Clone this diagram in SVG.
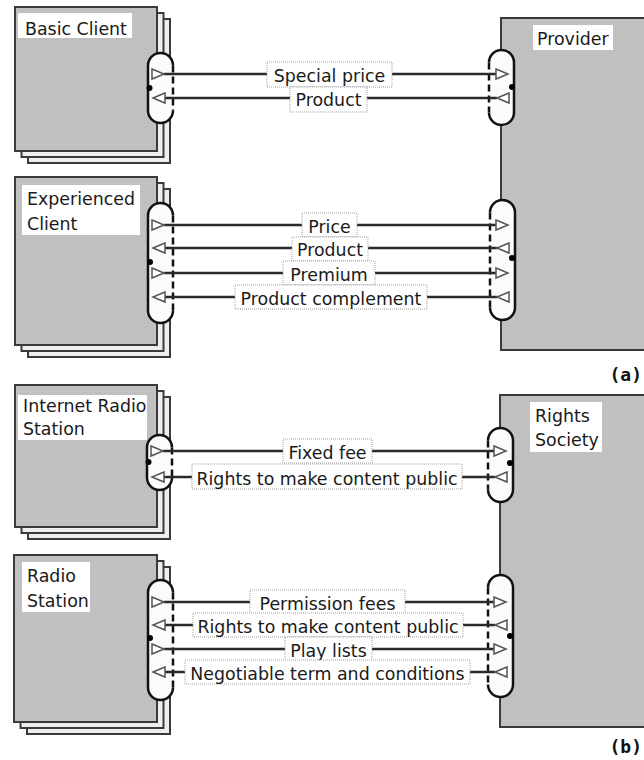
<svg xmlns="http://www.w3.org/2000/svg" xmlns:xlink="http://www.w3.org/1999/xlink" width="644" height="760" viewBox="0 0 644 760">
  <style>
    .page{fill:#eeeeee;stroke:#3a3a3a;stroke-width:2}
    .front{fill:#c0c0c0;stroke:#3a3a3a;stroke-width:2}
    .lbl{fill:#ffffff}
    .t{font-family:"DejaVu Sans","Liberation Sans",sans-serif;font-size:17.4px;fill:#1a1a1a}
    .cap{font-family:"DejaVu Sans Mono",monospace;font-size:18px;font-weight:bold;fill:#111}
    .port{fill:#fbfbfb}
    .rim{fill:none;stroke:#111;stroke-width:2.5}
    .dash{fill:none;stroke:#111;stroke-width:2.5;stroke-dasharray:7 4}
    .dot{fill:#000}
    .wire{stroke:#2a2a2a;stroke-width:2.5}
    .tri{fill:#ffffff;stroke:#555;stroke-width:1.5;stroke-linejoin:miter}
    .tag{fill:#ffffff;stroke:#a0a0a0;stroke-width:1;stroke-dasharray:1 1}
  </style>
  <defs>
    <!-- hollow arrowheads: origin at the left end -->
    <polygon id="tr" class="tri" points="0,-5 12,0 0,5"/>
    <polygon id="tl" class="tri" points="12,-5 0,0 12,5"/>
  </defs>

  <rect width="644" height="760" fill="#ffffff"/>

  <!-- ===== (a) ===== -->
  <g id="basic-client">
    <rect class="page" x="28" y="19" width="142" height="144"/>
    <rect class="page" x="21.5" y="13" width="142" height="144"/>
    <rect class="front" x="15" y="7" width="142" height="144"/>
    <rect class="lbl" x="18" y="13" width="114" height="25"/>
    <text class="t" x="25" y="35">Basic Client</text>
    <rect class="port" x="148" y="53" width="25" height="70" rx="12.5"/>
    <path class="rim" d="M173,65.5 A12.5,12.5 0 0 0 148,65.5 V110.5 A12.5,12.5 0 0 0 173,110.5"/>
    <path class="dash" d="M173,65.5 V110.5"/>
    <circle class="dot" cx="149.5" cy="88" r="3"/>
  </g>

  <g id="experienced-client">
    <rect class="page" x="28" y="189" width="142" height="168"/>
    <rect class="page" x="21.5" y="183" width="142" height="168"/>
    <rect class="front" x="15" y="177" width="142" height="168"/>
    <rect class="lbl" x="22" y="185" width="118" height="50"/>
    <text class="t" x="27" y="205">Experienced</text>
    <text class="t" x="27" y="230">Client</text>
    <rect class="port" x="148" y="203" width="25" height="120" rx="12.5"/>
    <path class="rim" d="M173,215.5 A12.5,12.5 0 0 0 148,215.5 V310.5 A12.5,12.5 0 0 0 173,310.5"/>
    <path class="dash" d="M173,215.5 V310.5"/>
    <circle class="dot" cx="150" cy="262" r="3"/>
  </g>

  <g id="provider">
    <rect class="front" x="501" y="18" width="160" height="332"/>
    <rect class="lbl" x="533" y="25" width="80" height="25"/>
    <text class="t" x="537" y="45">Provider</text>
    <rect class="port" x="489" y="50" width="25" height="75" rx="12.5"/>
    <path class="rim" d="M489,62.5 A12.5,12.5 0 0 1 514,62.5 V112.5 A12.5,12.5 0 0 1 489,112.5"/>
    <path class="dash" d="M489,62.5 V112.5"/>
    <circle class="dot" cx="512" cy="87" r="3"/>
    <rect class="port" x="490" y="200" width="25" height="120" rx="12.5"/>
    <path class="rim" d="M490,212.5 A12.5,12.5 0 0 1 515,212.5 V307.5 A12.5,12.5 0 0 1 490,307.5"/>
    <path class="dash" d="M490,212.5 V307.5"/>
    <circle class="dot" cx="512" cy="258" r="3"/>
  </g>

  <!-- ===== (b) ===== -->
  <g id="internet-radio-station">
    <rect class="page" x="28" y="397" width="142" height="142"/>
    <rect class="page" x="21.5" y="391" width="142" height="142"/>
    <rect class="front" x="15" y="385" width="142" height="142"/>
    <rect class="lbl" x="18" y="395" width="129" height="45"/>
    <text class="t" x="23" y="412">Internet Radio</text>
    <text class="t" x="23" y="435">Station</text>
    <rect class="port" x="147" y="435" width="25" height="55" rx="12.5"/>
    <path class="rim" d="M172,447.5 A12.5,12.5 0 0 0 147,447.5 V477.5 A12.5,12.5 0 0 0 172,477.5"/>
    <path class="dash" d="M172,447.5 V477.5"/>
    <circle class="dot" cx="148.5" cy="462" r="3"/>
  </g>

  <g id="radio-station">
    <rect class="page" x="27" y="567" width="143" height="167"/>
    <rect class="page" x="20.5" y="561" width="143" height="167"/>
    <rect class="front" x="14" y="555" width="143" height="167"/>
    <rect class="lbl" x="22" y="562" width="68" height="50"/>
    <text class="t" x="27" y="582">Radio</text>
    <text class="t" x="27" y="607">Station</text>
    <rect class="port" x="148" y="580" width="25" height="120" rx="12.5"/>
    <path class="rim" d="M173,592.5 A12.5,12.5 0 0 0 148,592.5 V687.5 A12.5,12.5 0 0 0 173,687.5"/>
    <path class="dash" d="M173,592.5 V687.5"/>
    <circle class="dot" cx="150" cy="638" r="3"/>
  </g>

  <g id="rights-society">
    <rect class="front" x="500" y="395" width="160" height="332"/>
    <rect class="lbl" x="530" y="402" width="72" height="50"/>
    <text class="t" x="535" y="422">Rights</text>
    <text class="t" x="535" y="446">Society</text>
    <rect class="port" x="488" y="428" width="25" height="74" rx="12.5"/>
    <path class="rim" d="M488,440.5 A12.5,12.5 0 0 1 513,440.5 V489.5 A12.5,12.5 0 0 1 488,489.5"/>
    <path class="dash" d="M488,440.5 V489.5"/>
    <circle class="dot" cx="510" cy="463" r="3"/>
    <rect class="port" x="488" y="575" width="25" height="122" rx="12.5"/>
    <path class="rim" d="M488,587.5 A12.5,12.5 0 0 1 513,587.5 V684.5 A12.5,12.5 0 0 1 488,684.5"/>
    <path class="dash" d="M488,587.5 V684.5"/>
    <circle class="dot" cx="510" cy="636" r="3"/>
  </g>

  <!-- ===== connectors ===== -->
  <g id="connectors">
    <!-- (a) basic client ↔ provider -->
    <line class="wire" x1="164" y1="74" x2="496" y2="74"/>
    <use xlink:href="#tr" x="152" y="74"/><use xlink:href="#tr" x="496" y="74"/>
    <rect class="tag" x="267" y="62" width="125" height="25"/>
    <text class="t" x="329.5" y="81.5" text-anchor="middle">Special price</text>

    <line class="wire" x1="165" y1="98" x2="497" y2="98"/>
    <use xlink:href="#tl" x="153" y="98"/><use xlink:href="#tl" x="497" y="98"/>
    <rect class="tag" x="290" y="87" width="77" height="25"/>
    <text class="t" x="328.5" y="105.5" text-anchor="middle">Product</text>

    <!-- (a) experienced client ↔ provider -->
    <line class="wire" x1="164" y1="225" x2="496" y2="225"/>
    <use xlink:href="#tr" x="152" y="225"/><use xlink:href="#tr" x="496" y="225"/>
    <rect class="tag" x="302" y="213" width="55" height="24"/>
    <text class="t" x="329.5" y="232.5" text-anchor="middle">Price</text>

    <line class="wire" x1="165" y1="248" x2="497" y2="248"/>
    <use xlink:href="#tl" x="153" y="248"/><use xlink:href="#tl" x="497" y="248"/>
    <rect class="tag" x="292" y="237" width="76" height="24"/>
    <text class="t" x="330" y="255.5" text-anchor="middle">Product</text>

    <line class="wire" x1="164" y1="273" x2="496" y2="273"/>
    <use xlink:href="#tr" x="152" y="273"/><use xlink:href="#tr" x="496" y="273"/>
    <rect class="tag" x="283" y="261" width="92" height="24"/>
    <text class="t" x="329" y="280.5" text-anchor="middle">Premium</text>

    <line class="wire" x1="165" y1="297" x2="497" y2="297"/>
    <use xlink:href="#tl" x="153" y="297"/><use xlink:href="#tl" x="497" y="297"/>
    <rect class="tag" x="235" y="285" width="192" height="24"/>
    <text class="t" x="331" y="304.5" text-anchor="middle">Product complement</text>

    <!-- (b) internet radio station ↔ rights society -->
    <line class="wire" x1="163" y1="451" x2="494" y2="451"/>
    <use xlink:href="#tr" x="151" y="451"/><use xlink:href="#tr" x="494" y="451"/>
    <rect class="tag" x="283" y="439" width="89" height="24"/>
    <text class="t" x="327.5" y="458.5" text-anchor="middle">Fixed fee</text>

    <line class="wire" x1="164" y1="477" x2="495" y2="477"/>
    <use xlink:href="#tl" x="152" y="477"/><use xlink:href="#tl" x="495" y="477"/>
    <rect class="tag" x="192" y="464" width="270" height="25"/>
    <text class="t" x="327" y="484.5" text-anchor="middle">Rights to make content public</text>

    <!-- (b) radio station ↔ rights society -->
    <line class="wire" x1="164" y1="602" x2="494" y2="602"/>
    <use xlink:href="#tr" x="152" y="602"/><use xlink:href="#tr" x="494" y="602"/>
    <rect class="tag" x="250" y="590" width="155" height="24"/>
    <text class="t" x="327.5" y="609.5" text-anchor="middle">Permission fees</text>

    <line class="wire" x1="165" y1="625" x2="495" y2="625"/>
    <use xlink:href="#tl" x="153" y="625"/><use xlink:href="#tl" x="495" y="625"/>
    <rect class="tag" x="193" y="613" width="270" height="24"/>
    <text class="t" x="328" y="632.5" text-anchor="middle">Rights to make content public</text>

    <line class="wire" x1="164" y1="649" x2="494" y2="649"/>
    <use xlink:href="#tr" x="152" y="649"/><use xlink:href="#tr" x="494" y="649"/>
    <rect class="tag" x="285" y="637" width="87" height="24"/>
    <text class="t" x="328.5" y="656.5" text-anchor="middle">Play lists</text>

    <line class="wire" x1="165" y1="672" x2="495" y2="672"/>
    <use xlink:href="#tl" x="153" y="672"/><use xlink:href="#tl" x="495" y="672"/>
    <rect class="tag" x="185" y="660" width="285" height="24"/>
    <text class="t" x="327.5" y="679.5" text-anchor="middle">Negotiable term and conditions</text>
  </g>

  <text class="cap" x="642" y="381" text-anchor="end">(a)</text>
  <text class="cap" x="642" y="753" text-anchor="end">(b)</text>
</svg>
